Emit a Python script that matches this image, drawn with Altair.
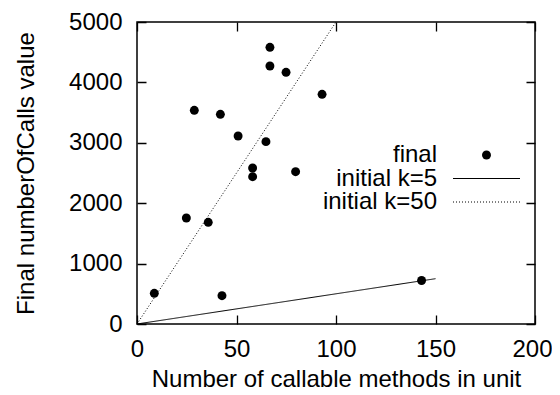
import altair as alt
import pandas as pd

# ---- data ----
final_x = [8.7, 24.8, 35.8, 42.7, 28.8, 41.9, 50.8, 64.8, 58.1, 58.1, 79.7, 66.8, 66.8, 74.9, 93.0, 143.0]
final_y = [508, 1755, 1683, 469, 3538, 3472, 3113, 3019, 2583, 2439, 2522, 4581, 4272, 4167, 3803, 720]

line_names = ["initial k=5", "initial k=50"]
line_k = [5, 50]
line_x_end = [150, 100]

series_names = ["final", "initial k=5", "initial k=50"]
x_ticks = [0, 50, 100, 150, 200]
y_ticks = [0, 1000, 2000, 3000, 4000, 5000]

FONT = "Liberation Sans"
W, H = 398, 302
TICK = 9
LEG_ROWS = [133, 156.5, 180]  # legend row positions (pixels)

pts = pd.DataFrame({"x": final_x, "y": final_y})
rows = []
for name, k, xe in zip(line_names, line_k, line_x_end):
    rows.append({"series": name, "x": 0, "y": 0})
    rows.append({"series": name, "x": xe, "y": k * xe})
lines = pd.DataFrame(rows)
legend_df = pd.DataFrame({"series": series_names})

xscale = alt.Scale(domain=[0, 200], nice=False, zero=False)
yscale = alt.Scale(domain=[0, 5000], nice=False, zero=False)

txt = dict(labelFont=FONT, labelFontSize=24, titleFont=FONT, titleFontSize=24,
           titleFontWeight="normal", labelColor="black", titleColor="black",
           labelFlush=False, labelOverlap=False, domain=False,
           grid=True, gridColor="black", gridOpacity=1, gridWidth=1.3)

# inward ticks on both edges are drawn as dashed grid lines: a short dash at each end
xaxis = alt.Axis(values=x_ticks, format="d", title="Number of callable methods in unit",
                 ticks=False, tickSize=0, labelPadding=13,
                 gridDash=[TICK, H - 2 * TICK, TICK, 200],
                 labelOffset={"condition": {"test": "datum.value == 200", "value": -3}, "value": 0},
                 titleBaseline="alphabetic", titleY=62, **txt)
yaxis = alt.Axis(values=y_ticks, format="d", title="Final numberOfCalls value",
                 ticks=False, tickSize=0, labelPadding=15,
                 gridDash=[TICK, W - 2 * TICK, TICK, 200],
                 titleBaseline="alphabetic", titleX=-104, titleY=151, **txt)

dash_scale = alt.Scale(domain=line_names, range=[[1, 0], [1, 2]])

points = alt.Chart(pts).mark_point(filled=True, size=80, color="black", opacity=1).encode(
    x=alt.X("x:Q", scale=xscale, axis=xaxis),
    y=alt.Y("y:Q", scale=yscale, axis=yaxis),
)

line_layer = alt.Chart(lines).mark_line(color="black", strokeWidth=1).encode(
    x=alt.X("x:Q", scale=xscale),
    y=alt.Y("y:Q", scale=yscale),
    detail="series:N",
    strokeDash=alt.StrokeDash("series:N", scale=dash_scale, legend=None),
)

# ---- legend (inside the plot, labels left of symbols) ----
legend_layers = []
for i, name in enumerate(series_names):
    row = alt.Chart(legend_df).transform_filter(alt.datum.series == name)
    legend_layers.append(row.mark_text(
        align="right", baseline="middle", font=FONT, fontSize=24, color="black"
    ).encode(x=alt.value(300), y=alt.value(LEG_ROWS[i]), text="series:N"))
    if name == "final":
        legend_layers.append(row.mark_point(filled=True, size=80, color="black", opacity=1)
                             .encode(x=alt.value(349.5), y=alt.value(LEG_ROWS[i])))
    else:
        legend_layers.append(row.mark_rule(color="black", strokeWidth=1).encode(
            x=alt.value(316), x2=alt.value(383), y=alt.value(LEG_ROWS[i]),
            strokeDash=alt.StrokeDash("series:N", scale=dash_scale, legend=None)))

chart = alt.layer(
    points, line_layer, *legend_layers,
).properties(
    width=W, height=H,
    autosize=alt.AutoSizeParams(type="none"),
    padding={"left": 129, "top": 14, "right": 17, "bottom": 63},
    background="white",
).configure_view(stroke="black", strokeWidth=1.5)

chart.save("out.html", embed_options={"renderer": "svg", "actions": False})
